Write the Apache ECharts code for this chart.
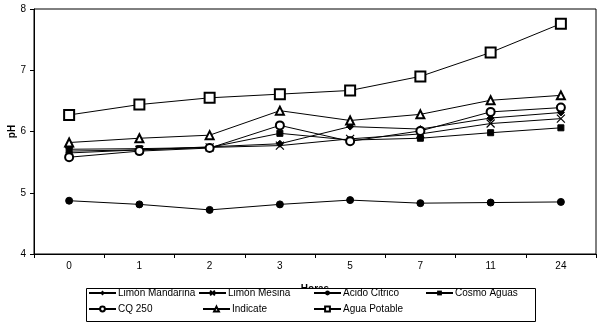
<!DOCTYPE html>
<html>
<head>
<meta charset="utf-8">
<script src="https://cdn.jsdelivr.net/npm/echarts@6/dist/echarts.min.js"></script>
<style>html,body{margin:0;padding:0;background:#fff}#c{width:600px;height:324px}</style>
</head>
<body>
<div id="c"></div>
<script>
const categories = ['0', '1', '2', '3', '5', '7', '11', '24'];
const yTicks = [4, 5, 6, 7, 8];
const limonMandarina = [5.65, 5.70, 5.75, 5.80, 6.08, 6.04, 6.22, 6.31];
const limonMesina    = [5.68, 5.70, 5.74, 5.77, 5.88, 5.96, 6.13, 6.21];
const acidoCitrico   = [4.87, 4.81, 4.72, 4.81, 4.88, 4.83, 4.84, 4.85];
const cosmoAguas     = [5.71, 5.72, 5.74, 5.97, 5.86, 5.89, 5.98, 6.06];
const cq250          = [5.58, 5.68, 5.73, 6.10, 5.84, 6.01, 6.32, 6.39];
const indicate       = [5.82, 5.89, 5.94, 6.34, 6.18, 6.28, 6.51, 6.59];
const aguaPotable    = [6.27, 6.44, 6.55, 6.61, 6.67, 6.90, 7.29, 7.76];
const seriesNames = ['Limón Mandarina', 'Limón Mesina', 'Acido Citrico', 'Cosmo Aguas', 'CQ 250', 'Indicate', 'Agua Potable'];

const font = 'Liberation Sans, Arial, sans-serif';
const chart = echarts.init(document.getElementById('c'), null, {renderer: 'canvas'});

const xPath = 'path://M0,0L10,10M10,0L0,10';
const specs = [
  {data: limonMandarina, symbol: 'diamond', size: 7},
  {data: limonMesina, symbol: xPath, size: 8, stroke: 1.2},
  {data: acidoCitrico, symbol: 'circle', size: 7},
  {data: cosmoAguas, symbol: 'rect', size: 6},
  {data: cq250, symbol: 'emptyCircle', size: 8, stroke: 1.1},
  {data: indicate, symbol: 'emptyTriangle', size: 8, stroke: 1.1},
  {data: aguaPotable, symbol: 'emptyRect', size: 10, stroke: 1.4}
];

const series = specs.map((s, i) => {
  const itemStyle = {color: '#000', borderColor: '#000'};
  if (s.stroke) itemStyle.borderWidth = s.stroke;
  return {
    name: seriesNames[i],
    type: 'line',
    data: s.data,
    symbol: s.symbol,
    symbolSize: s.size,
    showAllSymbol: true,
    lineStyle: {color: '#000', width: 1},
    itemStyle: itemStyle,
    emphasis: {disabled: true},
    animation: false,
    z: 2 + i
  };
});

const legendPos = [
  [88, 288], [198, 288], [313, 288], [425, 288],
  [88, 304], [202, 304], [313, 304]
];
const legends = seriesNames.map((n, i) => ({
  data: [n],
  left: legendPos[i][0],
  top: legendPos[i][1],
  padding: 0,
  itemGap: 0,
  itemWidth: 27,
  itemHeight: 6,
  z: 20,
  selectedMode: false,
  textStyle: {fontFamily: font, fontSize: 10, color: '#000', padding: [0, 0, 0, -3]}
}));

chart.setOption({
  animation: false,
  backgroundColor: '#fff',
  grid: {left: 34, top: 9, right: 4, bottom: 70, show: true, borderColor: '#000', borderWidth: 1, containLabel: false, outerBoundsMode: 'none'},
  xAxis: {
    type: 'category',
    data: categories,
    boundaryGap: true,
    name: 'Horas',
    nameLocation: 'middle',
    nameGap: 30,
    nameTextStyle: {fontFamily: font, fontSize: 10, fontWeight: 'bold', color: '#000', verticalAlign: 'top'},
    axisLine: {lineStyle: {color: '#000', width: 1}},
    axisTick: {show: true, inside: false, length: 4, alignWithLabel: false, lineStyle: {color: '#000'}},
    axisLabel: {fontFamily: font, fontSize: 10, color: '#000', margin: 7},
    splitLine: {show: false}
  },
  yAxis: {
    type: 'value',
    min: yTicks[0],
    max: yTicks[yTicks.length - 1],
    interval: 1,
    name: 'pH',
    nameLocation: 'middle',
    nameGap: 17,
    nameMoveOverlap: false,
    nameRotate: 90,
    nameTextStyle: {fontFamily: font, fontSize: 10, fontWeight: 'bold', color: '#000'},
    axisLine: {show: true, lineStyle: {color: '#000', width: 1}},
    axisTick: {show: true, inside: false, length: 4, lineStyle: {color: '#000'}},
    axisLabel: {fontFamily: font, fontSize: 10, color: '#000', margin: 8},
    splitLine: {show: false}
  },
  legend: legends,
  graphic: [{
    type: 'rect',
    shape: {x: 86.5, y: 288.5, width: 449, height: 33},
    style: {fill: '#fff', stroke: '#000', lineWidth: 1},
    z: 10
  }],
  series: series
});
</script>
</body>
</html>
